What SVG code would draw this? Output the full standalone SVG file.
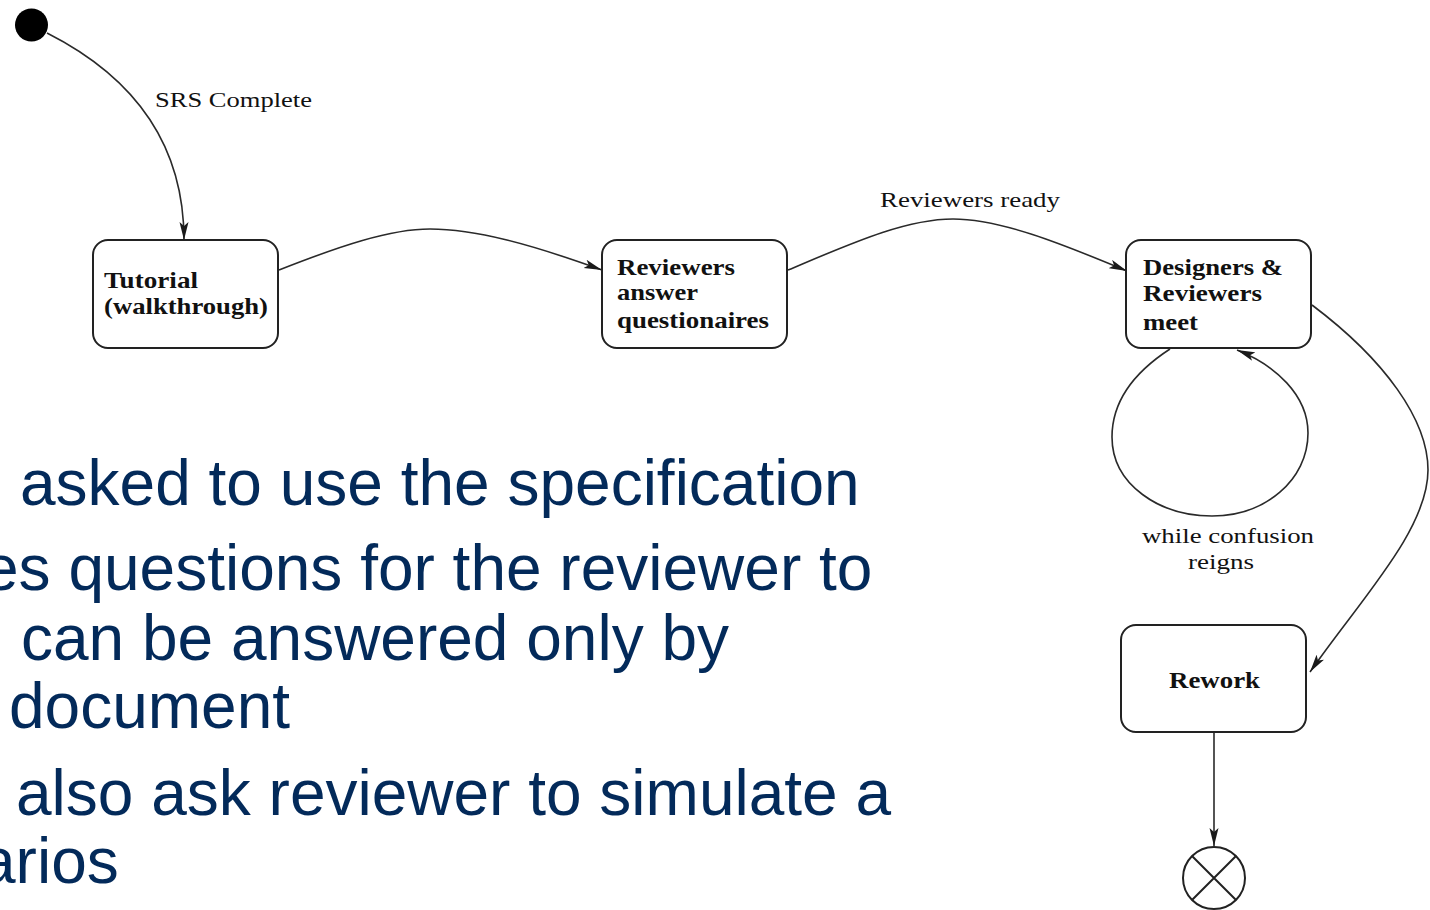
<svg xmlns="http://www.w3.org/2000/svg" width="1430" height="910" viewBox="0 0 1430 910">
  <defs>
    <marker id="arrow" viewBox="0 0 18 10" refX="18" refY="5" markerWidth="18" markerHeight="10" markerUnits="userSpaceOnUse" orient="auto">
      <path d="M0,0.5 L18,5 L0,9.5 L4,5 z" fill="#1a1a1a"/>
    </marker>
    <style>
      .state { fill: #ffffff; stroke: #222222; stroke-width: 2; }
      .edge { fill: none; stroke: #2a2a2a; stroke-width: 1.6; marker-end: url(#arrow); }
      .lbl { font-family: "Liberation Serif", "Times New Roman", serif; font-size: 22px; fill: #111111; }
      .name { font-family: "Liberation Serif", "Times New Roman", serif; font-size: 23px; font-weight: bold; fill: #111111; }
      .bullet { font-family: "Liberation Sans", Arial, sans-serif; font-size: 64px; fill: #032a5a; }
    </style>
  </defs>

  <rect width="1430" height="910" fill="#ffffff"/>

  <!-- transitions -->
  <g id="connectors">
    <path class="edge" d="M47,33 C130,75 184,140 184,240"/>
    <path class="edge" d="M279,270 C340,246 390,229 430,229 C475,229 530,244 602,270"/>
    <path class="edge" d="M788,270 C850,244 905,219 953,219 C1000,219 1060,243 1127,271"/>
    <path class="edge" d="M1170,349 C1130,375 1112,405 1112,437 C1112,485 1160,516 1212,516 C1265,516 1308,480 1308,433 C1308,395 1275,365 1237,350"/>
    <path class="edge" d="M1312,305 C1385,360 1428,420 1428,470 C1428,530 1360,600 1310,672"/>
    <path class="edge" d="M1214,733 L1214,846"/>
    <text class="lbl" x="155" y="107" textLength="157" lengthAdjust="spacingAndGlyphs">SRS Complete</text>
    <text class="lbl" x="880" y="207" textLength="180" lengthAdjust="spacingAndGlyphs">Reviewers ready</text>
    <text class="lbl" x="1142" y="543" textLength="172" lengthAdjust="spacingAndGlyphs">while confusion</text>
    <text class="lbl" x="1188" y="569" textLength="66" lengthAdjust="spacingAndGlyphs">reigns</text>
  </g>

  <!-- initial pseudo-state -->
  <g id="start">
    <circle cx="31.5" cy="25" r="16.5" fill="#000000"/>
  </g>

  <g id="tutorial">
    <rect class="state" x="93" y="240" width="185" height="108" rx="15"/>
    <text class="name" x="104" y="288" textLength="94" lengthAdjust="spacingAndGlyphs">Tutorial</text>
    <text class="name" x="104" y="314" textLength="164" lengthAdjust="spacingAndGlyphs">(walkthrough)</text>
  </g>

  <g id="answer-questionaires">
    <rect class="state" x="602" y="240" width="185" height="108" rx="15"/>
    <text class="name" x="617" y="275" textLength="118" lengthAdjust="spacingAndGlyphs">Reviewers</text>
    <text class="name" x="617" y="300" textLength="81" lengthAdjust="spacingAndGlyphs">answer</text>
    <text class="name" x="617" y="328" textLength="152" lengthAdjust="spacingAndGlyphs">questionaires</text>
  </g>

  <g id="meet">
    <rect class="state" x="1126" y="240" width="185" height="108" rx="15"/>
    <text class="name" x="1143" y="275" textLength="140" lengthAdjust="spacingAndGlyphs">Designers &amp;</text>
    <text class="name" x="1143" y="301" textLength="119" lengthAdjust="spacingAndGlyphs">Reviewers</text>
    <text class="name" x="1143" y="330" textLength="55" lengthAdjust="spacingAndGlyphs">meet</text>
  </g>

  <g id="rework">
    <rect class="state" x="1121" y="625" width="185" height="107" rx="15"/>
    <text class="name" x="1169" y="688" textLength="91" lengthAdjust="spacingAndGlyphs">Rework</text>
  </g>

  <!-- final pseudo-state -->
  <g id="end">
    <circle cx="1214" cy="878" r="31" fill="#ffffff" stroke="#222222" stroke-width="2"/>
    <path d="M1192,856 L1236,900 M1236,856 L1192,900" stroke="#222222" stroke-width="2"/>
  </g>

  <!-- slide bullet text running under the diagram -->
  <g id="notes">
    <text class="bullet" x="20" y="505">asked to use the specification</text>
    <text class="bullet" x="-17" y="590">es questions for the reviewer to</text>
    <text class="bullet" x="21" y="660">can be answered only by</text>
    <text class="bullet" x="9" y="728">document</text>
    <text class="bullet" x="16" y="815">also ask reviewer to simulate a</text>
    <text class="bullet" x="-20" y="883">arios</text>
  </g>
</svg>
